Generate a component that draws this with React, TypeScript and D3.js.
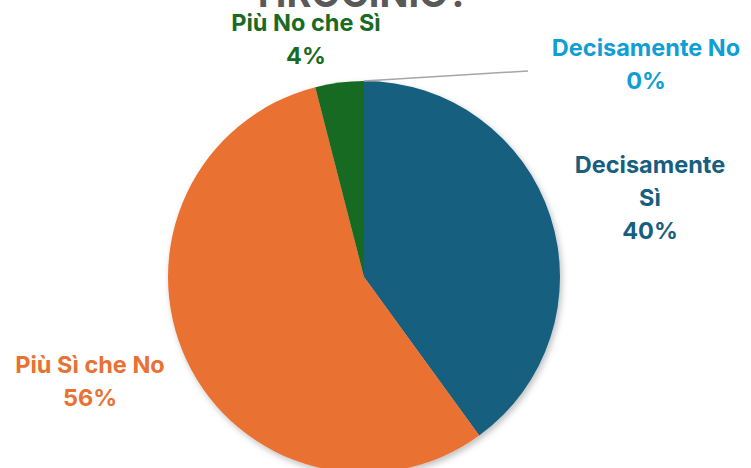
import React from "react";
import * as d3 from "d3";

const categories = ["Decisamente Sì", "Più Sì che No", "Più No che Sì", "Decisamente No"];
const values = [10, 14, 1, 0];
const colors = ["#175E7F", "#E97132", "#196B24", "#0F9ED5"];
const titleText = "TIROCINIO?";

const W = 751, H = 468;
const cx = 364, cy = 277, R = 196;

// label positions (layout, not data)
const labelLayout = [
  { x: 650, y: 173, lines: ["Decisamente", "Sì"] },
  { x: 90, y: 373, lines: ["Più Sì che No"] },
  { x: 306, y: 31, lines: ["Più No che Sì"] },
  { x: 646, y: 56, lines: ["Decisamente No"] },
];

export default function App() {
  const total = d3.sum(values);
  const pie = d3.pie<number>().sort(null).value((d) => d);
  const arcs = pie(values);
  const arc = d3.arc<d3.PieArcDatum<number>>().innerRadius(0).outerRadius(R);
  const fmt = (v: number) => `${Math.round((v / total) * 100)}%`;
  const lastArc = arcs[3];
  const [lx, ly] = [Math.sin(lastArc.startAngle) * R, -Math.cos(lastArc.startAngle) * R];
  return (
    <svg width={W} height={H} style={{ position: "absolute", left: 0, top: 0 }}>
      <defs>
        <filter id="sh" x="-20%" y="-20%" width="140%" height="140%">
          <feDropShadow dx="2" dy="3" stdDeviation="3" floodColor="#000" floodOpacity="0.25" />
        </filter>
      </defs>
      <rect width={W} height={H} fill="#fff" />
      <text x={360} y={7} textAnchor="middle" fontFamily="Inter, 'Open Sans', sans-serif" fontWeight={700} fontSize={38} fill="#595959">
        {titleText}
      </text>
      <g transform={`translate(${cx},${cy})`} filter="url(#sh)">
        {arcs.map((a, i) => (
          <path key={i} d={arc(a) || ""} fill={colors[i]} />
        ))}
      </g>
      <line x1={cx + lx} y1={cy + ly} x2={528} y2={71} stroke="#A6A6A6" strokeWidth={1.5} />
      {labelLayout.map((l, i) => (
        <text key={i} textAnchor="middle" fontFamily="Inter, 'Open Sans', sans-serif" fontWeight={700} fontSize={23.5} fill={colors[i]}>
          {[...l.lines, fmt(values[i])].map((t, j) => (
            <tspan key={j} x={l.x} y={l.y + j * 33}>{t}</tspan>
          ))}
        </text>
      ))}
    </svg>
  );
}
